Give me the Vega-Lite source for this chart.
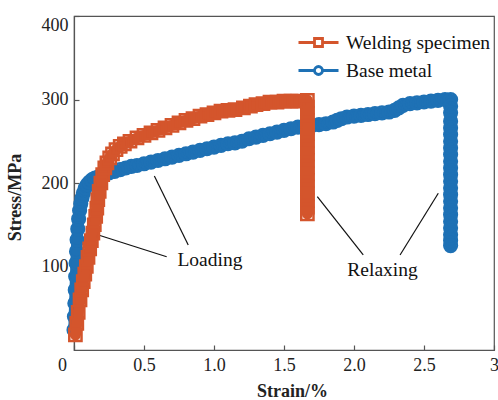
{
  "$schema": "https://vega.github.io/schema/vega-lite/v6.json",
  "width": 420,
  "height": 334,
  "autosize": {"type": "none"},
  "padding": {"left": 74, "top": 16, "right": 4, "bottom": 50},
  "background": "white",
  "config": {
    "view": {"stroke": "#555", "strokeWidth": 1.2},
    "axis": {
      "domainColor": "#555", "domainWidth": 1.2,
      "tickColor": "#555", "tickWidth": 1.2, "tickSize": -5,
      "grid": false,
      "labelFont": "Liberation Serif", "labelFontSize": 18, "labelColor": "#222",
      "titleFont": "Liberation Serif", "titleFontSize": 18, "titleFontWeight": "bold", "titleColor": "#222"
    }
  },
  "datasets": {
    "curves": [
      {"series": "Base metal", "strain": 0.0, "stress": 24},
      {"series": "Base metal", "strain": 0.003, "stress": 40},
      {"series": "Base metal", "strain": 0.006, "stress": 56},
      {"series": "Base metal", "strain": 0.009, "stress": 72},
      {"series": "Base metal", "strain": 0.012, "stress": 88},
      {"series": "Base metal", "strain": 0.015, "stress": 104},
      {"series": "Base metal", "strain": 0.018, "stress": 118},
      {"series": "Base metal", "strain": 0.022, "stress": 132},
      {"series": "Base metal", "strain": 0.027, "stress": 145},
      {"series": "Base metal", "strain": 0.033, "stress": 157},
      {"series": "Base metal", "strain": 0.04, "stress": 167},
      {"series": "Base metal", "strain": 0.048, "stress": 175},
      {"series": "Base metal", "strain": 0.057, "stress": 182},
      {"series": "Base metal", "strain": 0.067, "stress": 188},
      {"series": "Base metal", "strain": 0.08, "stress": 194},
      {"series": "Base metal", "strain": 0.095, "stress": 198},
      {"series": "Base metal", "strain": 0.11, "stress": 201},
      {"series": "Base metal", "strain": 0.13, "stress": 204},
      {"series": "Base metal", "strain": 0.15, "stress": 206},
      {"series": "Base metal", "strain": 0.18, "stress": 208},
      {"series": "Base metal", "strain": 0.21, "stress": 210},
      {"series": "Base metal", "strain": 0.25, "stress": 212},
      {"series": "Base metal", "strain": 0.29, "stress": 214},
      {"series": "Base metal", "strain": 0.33, "stress": 216},
      {"series": "Base metal", "strain": 0.37, "stress": 218},
      {"series": "Base metal", "strain": 0.41, "stress": 220},
      {"series": "Base metal", "strain": 0.45, "stress": 221},
      {"series": "Base metal", "strain": 0.5, "stress": 223},
      {"series": "Base metal", "strain": 0.55, "stress": 225},
      {"series": "Base metal", "strain": 0.6, "stress": 227},
      {"series": "Base metal", "strain": 0.65, "stress": 229},
      {"series": "Base metal", "strain": 0.7, "stress": 231},
      {"series": "Base metal", "strain": 0.75, "stress": 233},
      {"series": "Base metal", "strain": 0.8, "stress": 235},
      {"series": "Base metal", "strain": 0.85, "stress": 237},
      {"series": "Base metal", "strain": 0.9, "stress": 239},
      {"series": "Base metal", "strain": 0.95, "stress": 241},
      {"series": "Base metal", "strain": 1.0, "stress": 243},
      {"series": "Base metal", "strain": 1.05, "stress": 245},
      {"series": "Base metal", "strain": 1.1, "stress": 247},
      {"series": "Base metal", "strain": 1.15, "stress": 248},
      {"series": "Base metal", "strain": 1.2, "stress": 250},
      {"series": "Base metal", "strain": 1.25, "stress": 253},
      {"series": "Base metal", "strain": 1.3, "stress": 255},
      {"series": "Base metal", "strain": 1.35, "stress": 257},
      {"series": "Base metal", "strain": 1.4, "stress": 259},
      {"series": "Base metal", "strain": 1.45, "stress": 261},
      {"series": "Base metal", "strain": 1.5, "stress": 263},
      {"series": "Base metal", "strain": 1.55, "stress": 265},
      {"series": "Base metal", "strain": 1.6, "stress": 267},
      {"series": "Base metal", "strain": 1.65, "stress": 268},
      {"series": "Base metal", "strain": 1.7, "stress": 269},
      {"series": "Base metal", "strain": 1.75, "stress": 270},
      {"series": "Base metal", "strain": 1.8, "stress": 271},
      {"series": "Base metal", "strain": 1.85, "stress": 273},
      {"series": "Base metal", "strain": 1.88, "stress": 275},
      {"series": "Base metal", "strain": 1.91, "stress": 277},
      {"series": "Base metal", "strain": 1.95, "stress": 279},
      {"series": "Base metal", "strain": 2.0, "stress": 280},
      {"series": "Base metal", "strain": 2.05, "stress": 281},
      {"series": "Base metal", "strain": 2.1, "stress": 282},
      {"series": "Base metal", "strain": 2.15, "stress": 283},
      {"series": "Base metal", "strain": 2.2, "stress": 284},
      {"series": "Base metal", "strain": 2.25, "stress": 285},
      {"series": "Base metal", "strain": 2.29, "stress": 287},
      {"series": "Base metal", "strain": 2.32, "stress": 290},
      {"series": "Base metal", "strain": 2.35, "stress": 293},
      {"series": "Base metal", "strain": 2.4, "stress": 295},
      {"series": "Base metal", "strain": 2.45, "stress": 296},
      {"series": "Base metal", "strain": 2.5, "stress": 297},
      {"series": "Base metal", "strain": 2.55, "stress": 298},
      {"series": "Base metal", "strain": 2.6, "stress": 299},
      {"series": "Base metal", "strain": 2.65, "stress": 300},
      {"series": "Base metal", "strain": 2.69, "stress": 300},
      {"series": "Base metal", "strain": 2.69, "stress": 292},
      {"series": "Base metal", "strain": 2.69, "stress": 284},
      {"series": "Base metal", "strain": 2.69, "stress": 274},
      {"series": "Base metal", "strain": 2.69, "stress": 266},
      {"series": "Base metal", "strain": 2.69, "stress": 258},
      {"series": "Base metal", "strain": 2.69, "stress": 250},
      {"series": "Base metal", "strain": 2.69, "stress": 242},
      {"series": "Base metal", "strain": 2.69, "stress": 234},
      {"series": "Base metal", "strain": 2.69, "stress": 226},
      {"series": "Base metal", "strain": 2.69, "stress": 218},
      {"series": "Base metal", "strain": 2.69, "stress": 210},
      {"series": "Base metal", "strain": 2.69, "stress": 202},
      {"series": "Base metal", "strain": 2.69, "stress": 194},
      {"series": "Base metal", "strain": 2.69, "stress": 186},
      {"series": "Base metal", "strain": 2.69, "stress": 178},
      {"series": "Base metal", "strain": 2.69, "stress": 170},
      {"series": "Base metal", "strain": 2.69, "stress": 162},
      {"series": "Base metal", "strain": 2.69, "stress": 154},
      {"series": "Base metal", "strain": 2.69, "stress": 146},
      {"series": "Base metal", "strain": 2.69, "stress": 138},
      {"series": "Base metal", "strain": 2.69, "stress": 131},
      {"series": "Base metal", "strain": 2.69, "stress": 125},
      {"series": "Welding specimen", "strain": 0.01, "stress": 18},
      {"series": "Welding specimen", "strain": 0.02, "stress": 32},
      {"series": "Welding specimen", "strain": 0.03, "stress": 45},
      {"series": "Welding specimen", "strain": 0.043, "stress": 60},
      {"series": "Welding specimen", "strain": 0.055, "stress": 72},
      {"series": "Welding specimen", "strain": 0.066, "stress": 82},
      {"series": "Welding specimen", "strain": 0.077, "stress": 91},
      {"series": "Welding specimen", "strain": 0.088, "stress": 100},
      {"series": "Welding specimen", "strain": 0.1, "stress": 111},
      {"series": "Welding specimen", "strain": 0.112, "stress": 121},
      {"series": "Welding specimen", "strain": 0.124, "stress": 131},
      {"series": "Welding specimen", "strain": 0.135, "stress": 140},
      {"series": "Welding specimen", "strain": 0.145, "stress": 150},
      {"series": "Welding specimen", "strain": 0.155, "stress": 160},
      {"series": "Welding specimen", "strain": 0.163, "stress": 170},
      {"series": "Welding specimen", "strain": 0.17, "stress": 180},
      {"series": "Welding specimen", "strain": 0.18, "stress": 190},
      {"series": "Welding specimen", "strain": 0.192, "stress": 200},
      {"series": "Welding specimen", "strain": 0.205, "stress": 210},
      {"series": "Welding specimen", "strain": 0.22, "stress": 218},
      {"series": "Welding specimen", "strain": 0.235, "stress": 224},
      {"series": "Welding specimen", "strain": 0.255, "stress": 230},
      {"series": "Welding specimen", "strain": 0.275, "stress": 235},
      {"series": "Welding specimen", "strain": 0.3, "stress": 240},
      {"series": "Welding specimen", "strain": 0.33, "stress": 244},
      {"series": "Welding specimen", "strain": 0.36, "stress": 247},
      {"series": "Welding specimen", "strain": 0.4, "stress": 250},
      {"series": "Welding specimen", "strain": 0.45, "stress": 254},
      {"series": "Welding specimen", "strain": 0.5, "stress": 257},
      {"series": "Welding specimen", "strain": 0.55, "stress": 260},
      {"series": "Welding specimen", "strain": 0.6, "stress": 263},
      {"series": "Welding specimen", "strain": 0.65, "stress": 266},
      {"series": "Welding specimen", "strain": 0.7, "stress": 269},
      {"series": "Welding specimen", "strain": 0.75, "stress": 272},
      {"series": "Welding specimen", "strain": 0.8, "stress": 275},
      {"series": "Welding specimen", "strain": 0.85, "stress": 277},
      {"series": "Welding specimen", "strain": 0.9, "stress": 280},
      {"series": "Welding specimen", "strain": 0.95, "stress": 282},
      {"series": "Welding specimen", "strain": 1.0, "stress": 284},
      {"series": "Welding specimen", "strain": 1.05, "stress": 286},
      {"series": "Welding specimen", "strain": 1.1, "stress": 287},
      {"series": "Welding specimen", "strain": 1.15, "stress": 288},
      {"series": "Welding specimen", "strain": 1.21, "stress": 290},
      {"series": "Welding specimen", "strain": 1.26, "stress": 292},
      {"series": "Welding specimen", "strain": 1.3, "stress": 294},
      {"series": "Welding specimen", "strain": 1.35, "stress": 295},
      {"series": "Welding specimen", "strain": 1.4, "stress": 297},
      {"series": "Welding specimen", "strain": 1.45, "stress": 297},
      {"series": "Welding specimen", "strain": 1.5, "stress": 298},
      {"series": "Welding specimen", "strain": 1.55, "stress": 298},
      {"series": "Welding specimen", "strain": 1.6, "stress": 298},
      {"series": "Welding specimen", "strain": 1.667, "stress": 299},
      {"series": "Welding specimen", "strain": 1.667, "stress": 291},
      {"series": "Welding specimen", "strain": 1.667, "stress": 283},
      {"series": "Welding specimen", "strain": 1.667, "stress": 275},
      {"series": "Welding specimen", "strain": 1.667, "stress": 267},
      {"series": "Welding specimen", "strain": 1.667, "stress": 259},
      {"series": "Welding specimen", "strain": 1.667, "stress": 251},
      {"series": "Welding specimen", "strain": 1.667, "stress": 243},
      {"series": "Welding specimen", "strain": 1.667, "stress": 235},
      {"series": "Welding specimen", "strain": 1.667, "stress": 227},
      {"series": "Welding specimen", "strain": 1.667, "stress": 219},
      {"series": "Welding specimen", "strain": 1.667, "stress": 211},
      {"series": "Welding specimen", "strain": 1.667, "stress": 203},
      {"series": "Welding specimen", "strain": 1.667, "stress": 195},
      {"series": "Welding specimen", "strain": 1.667, "stress": 187},
      {"series": "Welding specimen", "strain": 1.667, "stress": 179},
      {"series": "Welding specimen", "strain": 1.667, "stress": 171},
      {"series": "Welding specimen", "strain": 1.667, "stress": 163}
    ],
    "notes": [
      {"strain": 0.174, "stress": 137.7, "strain2": 0.662, "stress2": 111.7},
      {"strain": 0.574, "stress": 208.4, "strain2": 0.816, "stress2": 125.7},
      {"strain": 1.738, "stress": 183.6, "strain2": 2.066, "stress2": 113.8},
      {"strain": 2.602, "stress": 187.7, "strain2": 2.329, "stress2": 113.8}
    ],
    "texts": [
      {"strain": 0.971, "stress": 107.8, "label": "Loading"},
      {"strain": 2.204, "stress": 95.8, "label": "Relaxing"}
    ]
  },
  "encoding": {
    "x": {
      "field": "strain", "type": "quantitative",
      "scale": {"domain": [0, 3], "nice": false, "zero": false},
      "axis": {
        "title": "Strain/%",
        "values": [0, 0.5, 1, 1.5, 2, 2.5, 3],
        "labelExpr": "datum.value == 0 ? '0' : datum.value == 3 ? '3' : format(datum.value, '.1f')",
        "labelFlush": false,
        "labelPadding": 11,
        "labelOffset": {"condition": {"test": "datum.value == 0", "value": -12}, "value": 0},
        "titleX": 218, "titleY": 41, "titleAlign": "center", "titleBaseline": "middle"
      }
    },
    "y": {
      "field": "stress", "type": "quantitative",
      "scale": {"domain": [0, 400], "nice": false},
      "axis": {
        "title": "Stress/MPa",
        "values": [100, 200, 300, 400],
        "labelFlush": true,
        "labelPadding": 11,
        "titleX": -59, "titleY": 181, "titleAngle": -90, "titleAlign": "center", "titleBaseline": "middle"
      }
    }
  },
  "layer": [
    {
      "data": {"name": "notes"},
      "mark": {"type": "rule", "color": "#111", "strokeWidth": 1.2},
      "encoding": {"x2": {"field": "strain2"}, "y2": {"field": "stress2"}}
    },
    {
      "data": {"name": "texts"},
      "mark": {"type": "text", "font": "Liberation Serif", "fontSize": 19.5, "color": "#111"},
      "encoding": {"text": {"field": "label"}}
    },
    {
      "data": {"name": "curves"},
      "transform": [{"filter": "datum.series == 'Base metal'"}],
      "mark": {"type": "line", "color": "#1E71B5", "strokeWidth": 11.5, "strokeCap": "round", "strokeJoin": "round"},
      "encoding": {"order": {"value": null}}
    },
    {
      "data": {"name": "curves"},
      "transform": [{"filter": "datum.series == 'Base metal'"}],
      "mark": {"type": "point", "shape": "circle", "filled": false, "size": 160, "strokeWidth": 2.5, "opacity": 1},
      "encoding": {
        "color": {
          "field": "series", "type": "nominal",
          "scale": {"domain": ["Welding specimen", "Base metal"], "range": ["#D4552C", "#1E71B5"]},
          "legend": {
            "title": null, "orient": "none", "legendX": 233, "legendY": 15, "padding": 0,
            "labelFont": "Liberation Serif", "labelFontSize": 19.5, "labelColor": "#111",
            "symbolSize": 400, "symbolStrokeWidth": 2.8, "labelOffset": 16, "rowPadding": 6, "labelLimit": 300,
            "symbolType": {"expr": "datum.value == 'Welding specimen' ? 'M-2,0H-0.4M0.4,0H2M-0.4,-0.4H0.4V0.4H-0.4Z' : 'M-2,0H-0.4M0.4,0H2M0.4,0A0.4,0.4,0,1,1,-0.4,0A0.4,0.4,0,1,1,0.4,0Z'"}
          }
        }
      }
    },
    {
      "data": {"name": "curves"},
      "transform": [{"filter": "datum.series == 'Welding specimen'"}],
      "mark": {"type": "line", "color": "#D4552C", "strokeWidth": 11, "strokeCap": "round", "strokeJoin": "round"},
      "encoding": {"order": {"value": null}}
    },
    {
      "data": {"name": "curves"},
      "transform": [{"filter": "datum.series == 'Welding specimen'"}],
      "mark": {"type": "point", "shape": "square", "filled": false, "size": 150, "strokeWidth": 2.5, "opacity": 1},
      "encoding": {
        "color": {
          "field": "series", "type": "nominal",
          "scale": {"domain": ["Welding specimen", "Base metal"], "range": ["#D4552C", "#1E71B5"]},
          "legend": {
            "title": null, "orient": "none", "legendX": 233, "legendY": 15, "padding": 0,
            "labelFont": "Liberation Serif", "labelFontSize": 19.5, "labelColor": "#111",
            "symbolSize": 400, "symbolStrokeWidth": 2.8, "labelOffset": 16, "rowPadding": 6, "labelLimit": 300,
            "symbolType": {"expr": "datum.value == 'Welding specimen' ? 'M-2,0H-0.4M0.4,0H2M-0.4,-0.4H0.4V0.4H-0.4Z' : 'M-2,0H-0.4M0.4,0H2M0.4,0A0.4,0.4,0,1,1,-0.4,0A0.4,0.4,0,1,1,0.4,0Z'"}
          }
        }
      }
    }
  ]
}
